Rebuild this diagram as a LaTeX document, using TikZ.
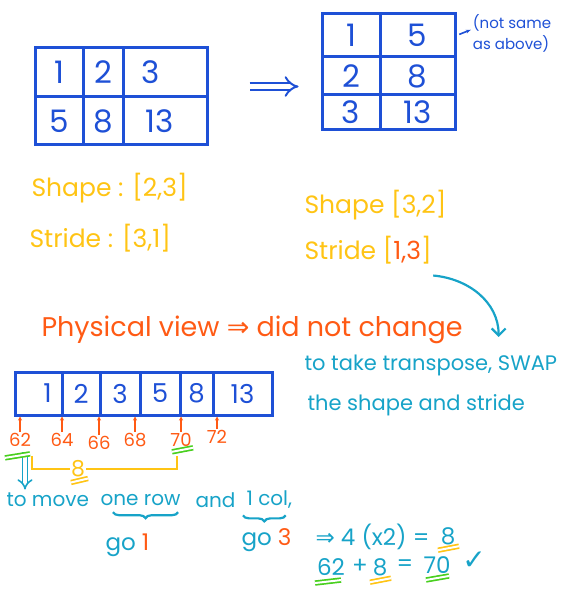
\documentclass[tikz,border=0pt]{standalone}
\usepackage{fontspec}
\setmainfont{Poppins}
\newfontfamily\symfont{DejaVu Sans}
\usetikzlibrary{arrows.meta,positioning,decorations.pathreplacing}

\definecolor{penblue}{HTML}{1E50D6}
\definecolor{penyellow}{HTML}{FFC414}
\definecolor{penorange}{HTML}{FF5A14}
\definecolor{pencyan}{HTML}{17A3C8}
\definecolor{pengreen}{HTML}{48CF1E}

\begin{document}
\begin{tikzpicture}[x=1pt, y=-1pt,
      cell/.style={draw=penblue, line width=3pt, text=penblue, inner sep=0pt,
                   font=\fontsize{31}{31}\selectfont},
      mem/.style={cell, minimum height=43pt, font=\fontsize{26}{26}\selectfont},
      ytext/.style={text=penyellow, anchor=west, font=\fontsize{25}{25}\selectfont},
      ctext/.style={text=pencyan, anchor=west, font=\fontsize{21}{21}\selectfont},
      mtext/.style={ctext, font=\fontsize{20}{20}\selectfont},
      otext/.style={text=penorange, anchor=west, font=\fontsize{27}{27}\selectfont},
      addr/.style={text=penorange, inner sep=1pt, font=\fontsize{18}{18}\selectfont},
      parrow/.style={-{Stealth[length=4pt,width=4pt]}, penorange, line width=1.4pt},
      carrow/.style={-{Straight Barb[length=7pt]}, pencyan, line width=2.2pt},
      dblarrow/.style={-{Implies}, double=white, line width=2pt},
      uline/.style={draw=#1, line width=1.7pt, double=white, double distance=2pt},
      yline/.style={penyellow, line width=2.2pt},
      cbrace/.style={decorate, decoration={brace, mirror, amplitude=6pt}, pencyan, line width=2.2pt},
    ]
    \useasboundingbox (0,0) rectangle (572,596);

    % Logical view, 2 x 3
    \node[cell, minimum width=48pt, minimum height=49pt] (a11) at (59,72.5) {1};
    \node[cell, minimum width=40pt, minimum height=49pt] (a12) at (103,72.5) {2};
    \node[cell, minimum width=84pt, minimum height=49pt] (a13) at (165,72.5) {3\hspace*{28pt}};
    \node[cell, minimum width=48pt, minimum height=48pt] (a21) at (59,121) {5};
    \node[cell, minimum width=40pt, minimum height=48pt] (a22) at (103,121) {8};
    \node[cell, minimum width=84pt, minimum height=48pt] (a23) at (165,121) {13\hspace*{10pt}};

    % Transposed view, 3 x 2
    \node[cell, minimum width=58pt, minimum height=43pt] (b11) at (351,35.5) {1};
    \node[cell, minimum width=75pt, minimum height=43pt] (b12) at (417.5,35.5) {5};
    \node[cell, minimum width=58pt, minimum height=38pt] (b21) at (351,76) {2};
    \node[cell, minimum width=75pt, minimum height=38pt] (b22) at (417.5,76) {8};
    \node[cell, minimum width=58pt, minimum height=35pt] (b31) at (351,112.5) {3};
    \node[cell, minimum width=75pt, minimum height=35pt] (b32) at (417.5,112.5) {13};

    % Note
    \node[text=penblue, align=left, inner sep=0pt, font=\fontsize{15}{21}\selectfont] (note) at (512,33) {(not same\\as above)};

    % Shape and stride
    \node[ytext] (shapeA) at (28,188) {Shape : [2,3]};
    \node[ytext] (strideA) at (26,238) {Stride : [3,1]};
    \node[ytext] (shapeB) at (301,205) {Shape [3,2]};
    \node[ytext] (strideB) at (301,250) {Stride [{\color{penorange}1,3}]};

    % Physical view
    \node[otext] (phys) at (38,330) {Physical view {\symfont ⇒} did not change};
    \node[ctext] (swapA) at (301,365) {to take transpose, SWAP};
    \node[ctext] (swapB) at (304,405) {the shape and stride};

    % Memory strip
    \node[mem, minimum width=47pt] (m1) at (38.5,393.5) {\hspace*{18pt}1};
    \node[mem, minimum width=38pt] (m2) at (81,393.5) {2};
    \node[mem, minimum width=40pt] (m3) at (120,393.5) {3};
    \node[mem, minimum width=40pt] (m4) at (160,393.5) {5};
    \node[mem, minimum width=33pt] (m5) at (196.5,393.5) {8};
    \node[mem, minimum width=59pt] (m6) at (242.5,393.5) {13};

    % Addresses
    \node[addr] (p62) at (20,440) {62};
    \node[addr] (p64) at (62,440) {64};
    \node[addr] (p66) at (99,443) {66};
    \node[addr] (p68) at (135,440) {68};
    \node[addr] (p70) at (181,440) {70};
    \node[addr] (p72) at (217,437) {72};

    % Offset
    \node[text=penyellow, inner sep=1pt, font=\fontsize{22}{22}\selectfont] (y8) at (78,469) {8};

    % Explanation
    \node[mtext] (move) at (3,500) {to move};
    \node[mtext] (onerow) at (97,500) {one row};
    \node[mtext] (andw) at (192,500) {and};
    \node[mtext] (onecol) at (243,500) {1 col,};
    \node[ctext, font=\fontsize{23}{23}\selectfont] (go1) at (102,545) {go {\color{penorange}1}};
    \node[ctext, font=\fontsize{23}{23}\selectfont] (go3) at (238,540) {go {\color{penorange}3}};

    % Sum
    \node[ctext, font=\fontsize{23}{23}\selectfont] (calc) at (312,537) {{\symfont ⇒} 4 (x2) =};
    \node[ctext, anchor=center, font=\fontsize{23}{23}\selectfont] (calc8) at (448,536) {8};
    \node[ctext, anchor=center, font=\fontsize{23}{23}\selectfont] (s62) at (331,567) {62};
    \node[ctext, anchor=center, font=\fontsize{23}{23}\selectfont] (splus) at (360,566) {+};
    \node[ctext, anchor=center, font=\fontsize{23}{23}\selectfont] (s8) at (380,567) {8};
    \node[ctext, anchor=center, font=\fontsize{23}{23}\selectfont] (seq) at (405,566) {=};
    \node[ctext, anchor=center, font=\fontsize{23}{23}\selectfont] (s70) at (437,565) {70};
    \node[text=pencyan, font=\symfont\fontsize{28}{28}\selectfont] (tick) at (474,561) {✓};

    % Arrows
    \draw[dblarrow, penblue, double distance=5pt, shorten <=41pt, shorten >=22pt]
      ([yshift=9pt]a23.north east) -- ([yshift=7pt]b31.north west);
    \draw[-{Stealth[length=5pt]}, penblue, line width=1.6pt, shorten <=3pt, shorten >=2pt]
      (b12.east) -- ([yshift=4pt]note.west);
    \draw[carrow] ([xshift=-2pt,yshift=-8pt]strideB.south east) to[out=-5, in=90] ([xshift=-62pt,yshift=14pt]swapA.north east);
    \draw[parrow] (p62.north) -- (p62.north |- m1.south);
    \draw[parrow] (p64.north) -- (p64.north |- m2.south);
    \draw[parrow] (p66.north) -- (p66.north |- m3.south);
    \draw[parrow] (p68.north) -- (p68.north |- m4.south);
    \draw[parrow] (p70.north) -- (p70.north |- m5.south);
    \draw[parrow] (p72.north) -- (p72.north |- m6.south);
    \draw[yline] ([yshift=-8pt]p62.south east) |- (y8.west);
    \draw[yline] (y8.east) -| ([xshift=-4pt,yshift=-8pt]p70.south);
    \draw[dblarrow, pencyan, line width=1.6pt, double distance=3.5pt] ([xshift=5pt,yshift=-4pt]p62.south) -- ([xshift=5pt]p62.south |- move.north);
    \draw[cbrace] ([xshift=16pt,yshift=-3pt]onerow.south west) -- ([xshift=-6pt,yshift=-3pt]onerow.south east);
    \draw[cbrace] ([yshift=-3pt]onecol.south west) -- ([xshift=-10pt,yshift=-3pt]onecol.south east);

    % Underlines
    \draw[uline=pengreen] ([xshift=-15pt,yshift=-10pt]p62.south) -- ([xshift=10pt,yshift=-6pt]p62.south);
    \draw[uline=pengreen] ([xshift=-9pt,yshift=-4pt]p70.south) -- ([xshift=12pt,yshift=0pt]p70.south);
    \draw[uline=penyellow] ([xshift=-7pt,yshift=-4pt]y8.south) -- ([xshift=10pt,yshift=0pt]y8.south);
    \draw[uline=penyellow] ([xshift=-10pt,yshift=-2pt]calc8.south) -- ([xshift=11pt,yshift=2pt]calc8.south);
    \draw[uline=pengreen] ([xshift=-16pt,yshift=-4pt]s62.south) -- ([xshift=10pt,yshift=-1pt]s62.south);
    \draw[uline=penyellow] ([xshift=-10pt,yshift=-3pt]s8.south) -- ([xshift=11pt,yshift=1pt]s8.south);
    \draw[uline=pengreen] ([xshift=-11pt,yshift=-3pt]s70.south) -- ([xshift=12pt,yshift=1pt]s70.south);

  \end{tikzpicture}
\end{document}
